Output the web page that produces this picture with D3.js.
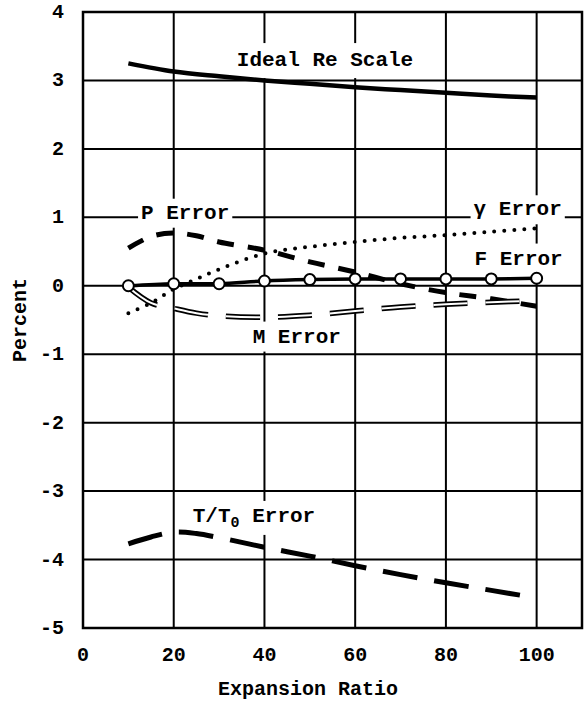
<!DOCTYPE html>
<html>
<head>
<meta charset="utf-8">
<script src="https://cdn.jsdelivr.net/npm/d3@7"></script>
<style>
  html, body { margin: 0; padding: 0; background: #fff; }
  svg text { font-family: "Liberation Mono", "Courier New", monospace; font-weight: bold; fill: #000; }
</style>
</head>
<body>
<svg id="chart" width="584" height="708"></svg>
<script>
// expansion ratio sampled along each curve
const ratio = [10, 20, 30, 40, 50, 60, 70, 80, 90, 100];
const ratioFine = [10, 15, 20, 25, 30, 40, 50, 60, 70, 80, 90, 100];

const idealRe = [3.25, 3.13, 3.06, 3.0, 2.95, 2.9, 2.86, 2.82, 2.78, 2.75];
const fError = [0.0, 0.03, 0.03, 0.07, 0.09, 0.1, 0.1, 0.1, 0.1, 0.11];
const pError = [0.55, 0.72, 0.77, 0.73, 0.64, 0.52, 0.35, 0.2, 0.03, -0.1, -0.19, -0.3];
const gammaError = [-0.4, -0.25, -0.05, 0.1, 0.24, 0.47, 0.57, 0.64, 0.7, 0.74, 0.79, 0.84];
const mError = [-0.02, -0.25, -0.33, -0.4, -0.44, -0.46, -0.43, -0.37, -0.31, -0.27, -0.24, -0.22];
const tError = [-3.77, -3.67, -3.6, -3.62, -3.68, -3.82, -3.95, -4.09, -4.22, -4.34, -4.45, -4.56];

const xTicks = [0, 20, 40, 60, 80, 100];
const yTicks = [4, 3, 2, 1, 0, -1, -2, -3, -4, -5];

const svg = d3.select("#chart");
const margin = { left: 83, right: 2, top: 12, bottom: 80 };
const width = 584, height = 708;

const x = d3.scaleLinear().domain([0, 110]).range([margin.left, width - margin.right]);
const y = d3.scaleLinear().domain([-5, 4]).range([height - margin.bottom, margin.top]);

// grid
const grid = svg.append("g").attr("stroke", "#000").attr("stroke-width", 2);
grid.selectAll(".v").data(xTicks.filter(d => d > 0)).enter().append("line")
  .attr("x1", d => x(d)).attr("x2", d => x(d)).attr("y1", y(4)).attr("y2", y(-5));
grid.selectAll(".h").data(yTicks.filter(d => d > -5 && d < 4)).enter().append("line")
  .attr("y1", d => y(d)).attr("y2", d => y(d)).attr("x1", x(0)).attr("x2", x(110));
svg.append("rect")
  .attr("x", x(0)).attr("y", y(4)).attr("width", x(110) - x(0)).attr("height", y(-5) - y(4))
  .attr("fill", "none").attr("stroke", "#000").attr("stroke-width", 2.5);

// tick labels
svg.append("g").selectAll("text").data(xTicks).enter().append("text")
  .attr("x", d => x(d)).attr("y", y(-5) + 33).attr("text-anchor", "middle")
  .attr("font-size", 20).text(d => d);
svg.append("g").selectAll("text").data(yTicks).enter().append("text")
  .attr("x", 64).attr("y", d => y(d) + 6).attr("text-anchor", "end")
  .attr("font-size", 20).text(d => d < 0 ? "-" + Math.abs(d) : d);

svg.append("text").attr("x", 308).attr("y", 695).attr("text-anchor", "middle")
  .attr("font-size", 20).text("Expansion Ratio");
svg.append("text").attr("transform", `translate(26,${(y(4) + y(-5)) / 2}) rotate(-90)`)
  .attr("text-anchor", "middle").attr("font-size", 20).text("Percent");

// annotation labels (white boxes break the grid)
const labels = [
  { text: "Ideal Re Scale", x: 33.9, y: 3.21, pad: [6, 4, 6, 4] },
  { text: "P Error", x: 12.8, y: 0.98, pad: [3, 3, 3, 3] },
  { text: "\u03b3 Error", x: 86.1, y: 1.03, pad: [3, 3, 3, 3] },
  { text: "F Error", x: 86.3, y: 0.31, pad: [4, 3, 12, 3] },
  { text: "M Error", x: 37.4, y: -0.83, pad: [4, 3, 3, 3] },
  { text: "T/T", sub: "0", after: " Error", x: 24.2, y: -3.45, pad: [4, 3, 3, 3] }
];
const boxLayer = svg.append("g");
const lineLayer = svg.append("g");
const textLayer = svg.append("g");

labels.forEach(l => {
  const t = textLayer.append("text").attr("x", x(l.x)).attr("y", y(l.y)).attr("font-size", 21);
  t.append("tspan").text(l.text);
  if (l.sub) {
    t.append("tspan").attr("font-size", 15).attr("dy", 5).text(l.sub);
    t.append("tspan").attr("dy", -5).text(l.after);
  }
  const b = t.node().getBBox();
  boxLayer.append("rect")
    .attr("x", b.x - l.pad[3]).attr("y", b.y - l.pad[0])
    .attr("width", b.width + l.pad[1] + l.pad[3]).attr("height", b.height + l.pad[0] + l.pad[2])
    .attr("fill", "#fff");
});

// curves
const line = d3.line().x(d => x(d[0])).y(d => y(d[1])).curve(d3.curveCatmullRom);
const pair = (xs, ys) => xs.map((v, i) => [v, ys[i]]);

lineLayer.append("path").attr("d", line(pair(ratio, idealRe)))
  .attr("fill", "none").attr("stroke", "#000").attr("stroke-width", 4.5);

lineLayer.append("path").attr("d", line(pair(ratioFine, pError)))
  .attr("fill", "none").attr("stroke", "#000").attr("stroke-width", 5)
  .attr("stroke-dasharray", "17,14");

lineLayer.append("path").attr("d", line(pair(ratioFine, gammaError)))
  .attr("fill", "none").attr("stroke", "#000").attr("stroke-width", 4)
  .attr("stroke-linecap", "round").attr("stroke-dasharray", "0,10");

const mPath = line(pair(ratioFine, mError));
lineLayer.append("path").attr("d", mPath)
  .attr("fill", "none").attr("stroke", "#000").attr("stroke-width", 5.5)
  .attr("stroke-dasharray", "34,18");
lineLayer.append("path").attr("d", mPath)
  .attr("fill", "none").attr("stroke", "#fff").attr("stroke-width", 2)
  .attr("stroke-dasharray", "34,18");

lineLayer.append("path").attr("d", line(pair(ratioFine, tError)))
  .attr("fill", "none").attr("stroke", "#000").attr("stroke-width", 5)
  .attr("stroke-dasharray", "35,17");

const fData = pair(ratio, fError);
lineLayer.append("path").attr("d", line(fData))
  .attr("fill", "none").attr("stroke", "#000").attr("stroke-width", 3.5);
lineLayer.selectAll("circle").data(fData).enter().append("circle")
  .attr("cx", d => x(d[0])).attr("cy", d => y(d[1])).attr("r", 5.5)
  .attr("fill", "#fff").attr("stroke", "#000").attr("stroke-width", 2);
</script>
</body>
</html>
